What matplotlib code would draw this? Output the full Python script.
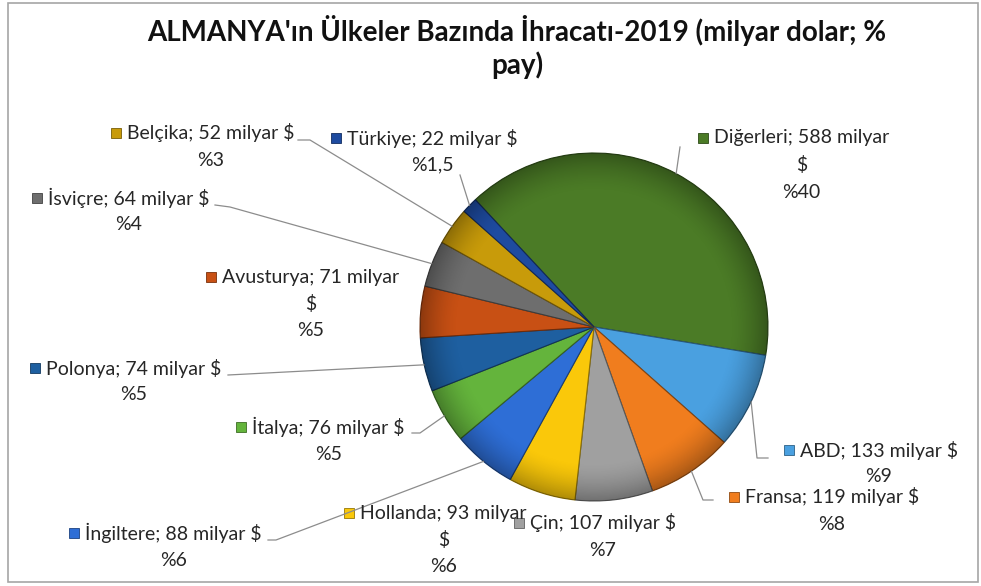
import matplotlib.pyplot as plt
from matplotlib.patches import Rectangle, Circle
import matplotlib.colors as mcolors
import numpy as np

plt.rcParams['font.family'] = ['Lato', 'DejaVu Sans']

# data (clockwise order, as in the original chart)
countries = ["Diğerleri", "ABD", "Fransa", "Çin", "Hollanda", "İngiltere",
             "İtalya", "Polonya", "Avusturya", "İsviçre", "Belçika", "Türkiye"]
exports = [588, 133, 119, 107, 93, 88, 76, 74, 71, 64, 52, 22]
share_labels = ["%40", "%9", "%8", "%7", "%6", "%6", "%5", "%5", "%5", "%4", "%3", "%1,5"]
colors = ["#4B7B26", "#4AA0E0", "#F07D1E", "#A0A0A0", "#FAC80A", "#2E6ED6",
          "#64B43C", "#1E5FA0", "#C85014", "#6E6E6E", "#C89B0A", "#1E4BA0"]

W, H = 981, 586
cx, cy, r = 594, 327, 174   # pie centre / radius in image pixels (y down)


def Y(y):
    return H - y


def darker(c, f=0.7):
    rgb = np.array(mcolors.to_rgb(c))
    return tuple(rgb * f)


# label layout: left x of first line, y of first line, wrap "$" to next line,
# leader points (image px) from text towards the slice
layout = {
    "Diğerleri": (714, 138, True, [(680, 147)]),
    "ABD": (800, 450, False, [(768, 458), (757, 458)]),
    "Fransa": (745, 497, False, [(713, 500), (703, 500)]),
    "Çin": (530, 523, False, []),
    "Hollanda": (360, 513, True, []),
    "İngiltere": (85, 533, False, [(268, 540), (276, 540)]),
    "İtalya": (252, 427, False, [(412, 433), (420, 433)]),
    "Polonya": (46, 368, False, [(228, 375)]),
    "Avusturya": (222, 277, True, []),
    "İsviçre": (48, 198, False, [(215, 205), (230, 207)]),
    "Belçika": (127, 133, False, [(298, 140), (310, 140)]),
    "Türkiye": (347, 138, False, [(460, 175)]),
}

fig = plt.figure(figsize=(W / 100, H / 100), dpi=100)
ax = fig.add_axes([0, 0, 1, 1])

wedges, _ = ax.pie(exports, colors=colors, startangle=133, counterclock=False,
                   center=(cx, Y(cy)), radius=r,
                   wedgeprops=dict(linewidth=0.8))
for w, c in zip(wedges, colors):
    w.set_edgecolor(darker(c, 0.55))

# soft bevel shading near the rim
n = 400
g = np.linspace(-1, 1, n)
gx, gy = np.meshgrid(g, g)
d = np.sqrt(gx ** 2 + gy ** 2)
shade = np.zeros((n, n, 4))
shade[..., 3] = 0.30 * np.clip((d - 0.78) / 0.22, 0, 1) ** 1.6
im = ax.imshow(shade, extent=(cx - r, cx + r, Y(cy) - r, Y(cy) + r), zorder=3)
im.set_clip_path(Circle((cx, Y(cy)), r, transform=ax.transData))

ax.set_xlim(0, W)
ax.set_ylim(0, H)
ax.set_aspect("equal")
ax.axis("off")

# frame of the chart area
ax.add_patch(Rectangle((8, Y(582)), 970, 579, fill=False, edgecolor="#a6a6a6", lw=1.2))

ax.text(517, Y(30), "ALMANYA'ın Ülkeler Bazında İhracatı-2019 (milyar dolar; %",
        ha="center", va="center", fontsize=20, fontweight="bold", color="#111111")
ax.text(517, Y(65), "pay)", ha="center", va="center", fontsize=20,
        fontweight="bold", color="#111111")

renderer = fig.canvas.get_renderer()
lh = 27
fs = 14
for i, w in enumerate(wedges):
    name = countries[i]
    x0, y0, wrap, leader = layout[name]
    if wrap:
        first = f"{name}; {exports[i]} milyar"
        rest = ["$", share_labels[i]]
    else:
        first = f"{name}; {exports[i]} milyar $"
        rest = [share_labels[i]]
    t = ax.text(x0, Y(y0), first, ha="left", va="center", fontsize=fs, color="#262626")
    bb = t.get_window_extent(renderer)
    xc = x0 + bb.width / 2
    for k, s in enumerate(rest):
        ax.text(xc, Y(y0 + lh * (k + 1)), s, ha="center", va="center",
                fontsize=fs, color="#262626")
    ax.add_patch(Rectangle((x0 - 16, Y(y0) - 5), 10, 10, facecolor=colors[i],
                           edgecolor=darker(colors[i], 0.6), lw=0.6))
    if leader:
        ang = np.deg2rad((w.theta1 + w.theta2) / 2)
        px = cx + r * np.cos(ang)
        py = cy - r * np.sin(ang)
        pts = leader + [(px, py)]
        ax.plot([p[0] for p in pts], [Y(p[1]) for p in pts], color="#8c8c8c",
                lw=0.9, zorder=1)

fig.savefig("out.png", dpi=100)
